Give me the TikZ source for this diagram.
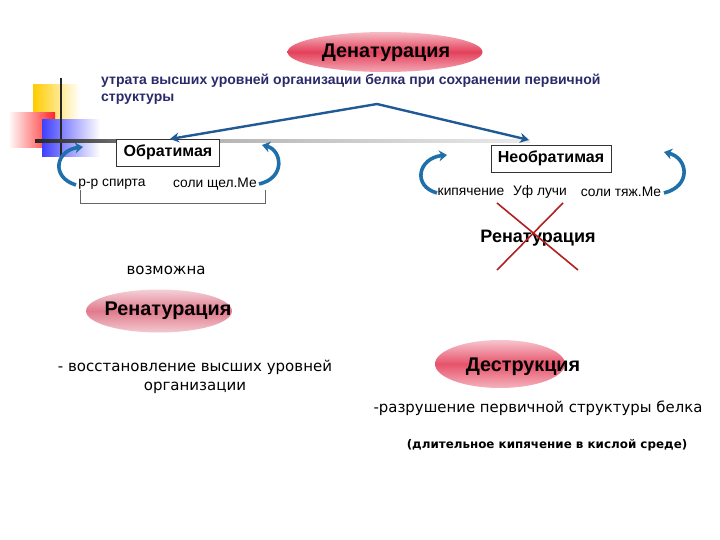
\documentclass[tikz,border=0pt]{standalone}
\usepackage{fontspec}
\setmainfont{Liberation Sans}
\newfontfamily\wide{DejaVu Sans}
\usetikzlibrary{shapes.geometric,arrows.meta}
\definecolor{arrblue}{HTML}{1F5A96}
\definecolor{curblue}{HTML}{1F70AA}
\definecolor{navy}{HTML}{2A2A6A}
\definecolor{crossred}{HTML}{B02020}
\definecolor{ellred}{HTML}{E4405A}
\definecolor{ellpink}{HTML}{E07A8C}
\definecolor{gold}{HTML}{FFCC00}
\tikzset{
  pill/.style={ellipse, minimum width=#1, inner sep=0pt},
  redpill/.style={pill=195pt, minimum height=40pt, top color=ellred!35, bottom color=ellred!45, middle color=ellred},
  pinkpill/.style={pill=146pt, minimum height=43pt, top color=ellpink!35, bottom color=ellpink!40, middle color=ellpink},
  pilltext/.style={font=\bfseries\fontsize{19.8}{22}\selectfont, inner sep=0pt},
  boxnode/.style={draw=black!80, line width=0.6pt, fill=white, font=\bfseries\fontsize{16}{18}\selectfont, inner xsep=7pt, minimum height=27pt},
  small/.style={font=\fontsize{13.8}{15}\selectfont, inner sep=0pt},
  mainarrow/.style={draw=arrblue, line width=2.4pt, -{Stealth[length=9pt,width=10pt]}},
  curarrow/.style={draw=curblue, line width=3.6pt, -{Stealth[length=8pt,width=11pt]}},
}
\begin{document}
\begin{tikzpicture}[x=1pt,y=-1pt]
\useasboundingbox (0,0) rectangle (720,540);
% decoration
\shade[left color=gold, right color=white] (33,85) rectangle (80,120);
\shade[left color=white, right color=red!85] (8,113) rectangle (55,148);
\shade[left color=blue!75, right color=white] (42,120) rectangle (100,157);
\draw[black!85, line width=2.2pt] (61,78) -- (61,157);
\shade[left color=black!85, right color=black!30] (35,139.8) rectangle (200,142.2);
\shade[left color=black!30, right color=black!8] (200,139.8) rectangle (530,142.2);

% top ellipse
\node[redpill] (den) at (385,52) {};
\node[pilltext] (dent) at (386,53) {Денатурация};
\node[anchor=north west, inner sep=0pt, text=navy, font=\bfseries\fontsize{14}{17}\selectfont, align=left] (loss) at (101,74)
  {утрата высших уровней организации белка при сохранении первичной\\структуры};
\coordinate (split) at (377,104);

% boxes
\node[boxnode] (obr) at (168,152.5) {Обратимая};
\node[boxnode] (neobr) at (551,158.5) {Необратимая};
\draw[mainarrow] (split) -- (170,139);
\draw[mainarrow] (split) -- (529,140);

% reversible agents
\node[small] (spirt) at (112,184) {р-р спирта};
\node[small] (shchel) at (215,184) {соли щел.Ме};
\draw[black!60, line width=0.7pt] (80,190) -- (80,203) -- (265,203) -- (265,190);
\draw[curarrow] (76,185) .. controls (50,177) and (56,150) .. (83,147);
\draw[curarrow] (259,184) .. controls (286,178) and (282,150) .. (262,145);

% irreversible agents
\node[small] (kip) at (471,192) {кипячение};
\node[small] (uf) at (540,192) {Уф лучи};
\node[small] (tyazh) at (621,192) {соли тяж.Ме};
\draw[curarrow] (437,193) .. controls (412,186) and (418,158) .. (447,155);
\draw[curarrow] (664,193) .. controls (692,186) and (688,158) .. (664,152);

% crossed renaturation
\node[font=\bfseries\fontsize{18}{20}\selectfont, inner sep=0pt] (renx) at (538,238) {Ренатурация};
\draw[crossred, line width=1.6pt] (497,203) -- (578,270);
\draw[crossred, line width=1.6pt] (563,203) -- (497,270);

% left lower part
\node[font=\wide\fontsize{15}{17}\selectfont, inner sep=0pt] (vozm) at (166,270) {возможна};
\node[pinkpill] (ren) at (159,311) {};
\node[pilltext] (rent) at (168,311) {Ренатурация};
\node[font=\wide\fontsize{15}{19}\selectfont, inner sep=0pt, align=center] (vosst) at (195,377)
  {- восстановление высших уровней\\организации};

% right lower part
\node[pinkpill, minimum width=130pt, minimum height=48pt, top color=ellred!30, bottom color=ellred!40, middle color=ellred!90] (destr) at (500,364) {};
\node[pilltext] (destrt) at (523,367) {Деструкция};
\node[font=\wide\fontsize{14.9}{17}\selectfont, inner sep=0pt] (razr) at (538,408) {-разрушение первичной структуры белка};
\node[font=\wide\bfseries\fontsize{11.9}{14}\selectfont, inner sep=0pt] (dlit) at (547,445) {(длительное кипячение в кислой среде)};
\end{tikzpicture}
\end{document}
